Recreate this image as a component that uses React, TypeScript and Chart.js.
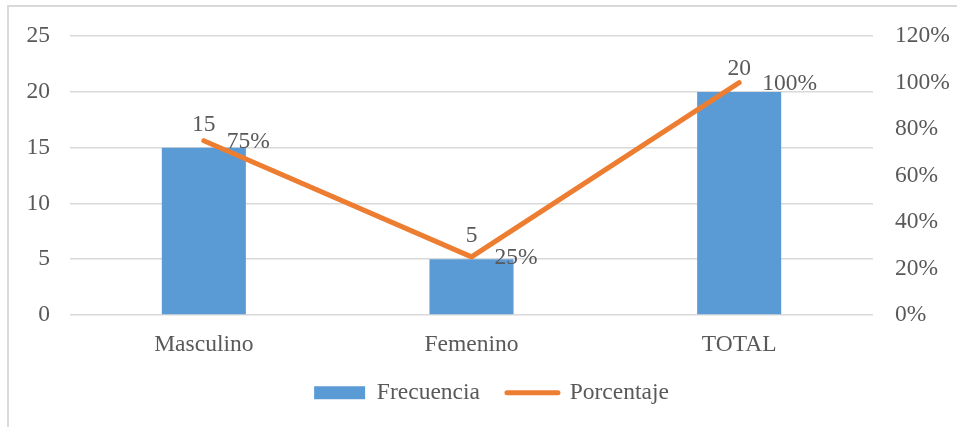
import React, { useEffect, useRef } from 'react';
import { Chart, registerables } from 'chart.js';

Chart.register(...registerables);

const categories = ['Masculino', 'Femenino', 'TOTAL'];
const frecuencia = [15, 5, 20];
const porcentaje = [75, 25, 100];
const leftMax = 25;
const leftStep = 5;
const rightMax = 120;
const rightStep = 20;

const FONT = '"Liberation Serif", "Times New Roman", serif';
const TEXT = '#595959';
const BLUE = '#5B9BD5';
const ORANGE = '#ED7D31';
const GRID = '#D9D9D9';
const FS = 23.5;

const labelPlugin = {
  id: 'valueLabels',
  afterDatasetsDraw(chart: any) {
    const ctx = chart.ctx;
    ctx.save();
    ctx.font = `${FS}px ${FONT}`;
    ctx.fillStyle = TEXT;
    const barMeta = chart.getDatasetMeta(0);
    barMeta.data.forEach((el: any, i: number) => {
      ctx.textAlign = 'center';
      ctx.textBaseline = 'alphabetic';
      ctx.fillText(String(frecuencia[i]), el.x, el.y - 17);
    });
    const lineMeta = chart.getDatasetMeta(1);
    lineMeta.data.forEach((el: any, i: number) => {
      ctx.textAlign = 'left';
      ctx.textBaseline = 'middle';
      ctx.fillText(porcentaje[i] + '%', el.x + 23, el.y + 1);
    });
    ctx.restore();
  },
};

export default function App() {
  const ref = useRef<HTMLCanvasElement | null>(null);
  useEffect(() => {
    if (!ref.current) return;
    const chart = new Chart(ref.current, {
      type: 'bar',
      data: {
        labels: categories,
        datasets: [
          {
            type: 'bar',
            label: 'Frecuencia',
            data: frecuencia,
            backgroundColor: BLUE,
            barPercentage: 0.314,
            categoryPercentage: 1,
            yAxisID: 'y',
            order: 1,
          },
          {
            type: 'line',
            label: 'Porcentaje',
            data: porcentaje,
            borderColor: ORANGE,
            backgroundColor: ORANGE,
            borderWidth: 5,
            borderCapStyle: 'round',
            borderJoinStyle: 'round',
            pointRadius: 0,
            tension: 0,
            yAxisID: 'y1',
            order: 0,
          },
        ] as any,
      },
      options: {
        animation: false,
        responsive: false,
        maintainAspectRatio: false,
        layout: { padding: { top: 35, left: 26, right: 0, bottom: 12.5 } },
        plugins: {
          tooltip: { enabled: false },
          legend: {
            position: 'bottom',
            labels: {
              font: { family: FONT, size: FS },
              color: TEXT,
              usePointStyle: true,
              pointStyleWidth: 51,
              boxHeight: 13,
              padding: 27,
              generateLabels: () => [
                {
                  text: 'Frecuencia',
                  fillStyle: BLUE,
                  strokeStyle: BLUE,
                  lineWidth: 0,
                  pointStyle: 'rect',
                  fontColor: TEXT,
                  datasetIndex: 0,
                  hidden: false,
                } as any,
                {
                  text: 'Porcentaje',
                  fillStyle: ORANGE,
                  strokeStyle: ORANGE,
                  lineWidth: 5,
                  lineCap: 'round',
                  pointStyle: 'line',
                  fontColor: TEXT,
                  datasetIndex: 1,
                  hidden: false,
                } as any,
              ],
            },
          },
        },
        scales: {
          x: {
            grid: { display: false, drawTicks: false },
            border: { display: false },
            ticks: { font: { family: FONT, size: FS }, color: TEXT, padding: 16 },
            afterFit: (s: any) => { s.height = 39; },
          },
          y: {
            position: 'left',
            min: 0,
            max: leftMax,
            ticks: { stepSize: leftStep, font: { family: FONT, size: FS }, color: TEXT, padding: 20 },
            grid: { color: GRID, lineWidth: 1.5, drawTicks: false },
            border: { display: false },
            afterFit: (s: any) => { s.width = 44; },
          },
          y1: {
            position: 'right',
            min: 0,
            max: rightMax,
            ticks: {
              stepSize: rightStep,
              font: { family: FONT, size: FS },
              color: TEXT,
              padding: 22,
              callback: (v: any) => Math.round(Number(v)) + '%',
            },
            grid: { display: false, drawTicks: false },
            border: { display: false },
            afterFit: (s: any) => { s.width = 84; },
          },
        },
      } as any,
      plugins: [labelPlugin],
    });
    return () => chart.destroy();
  }, []);

  return (
    <div style={{ position: 'fixed', left: 0, top: 0, width: 957, height: 427, background: '#fff' }}>
      <div
        style={{
          position: 'absolute',
          left: 7,
          top: 5,
          right: 0,
          bottom: 0,
          borderLeft: '2px solid #D9D9D9',
          borderTop: '2px solid #D9D9D9',
        }}
      />
      <canvas ref={ref} width={957} height={427} style={{ position: 'absolute', left: 0, top: 0 }} />
    </div>
  );
}
